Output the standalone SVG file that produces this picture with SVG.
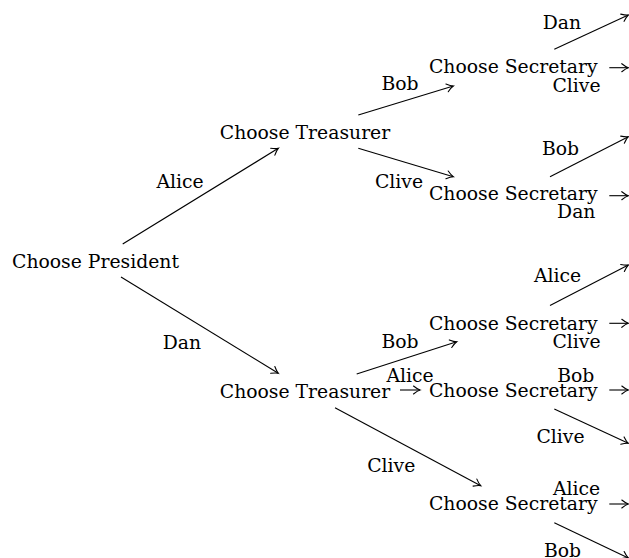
<svg xmlns="http://www.w3.org/2000/svg" width="629" height="558" viewBox="0 0 629 558">
<style>
.t text{font-size:18.8px;fill:#000;text-anchor:middle}
.e{stroke:#000;stroke-width:1.1;fill:none;marker-end:url(#arr)}
</style>
<defs>
<marker id="arr" markerUnits="userSpaceOnUse" markerWidth="14" markerHeight="14" viewBox="-10 -7 14 14" refX="0" refY="0" orient="auto" overflow="visible">
<path d="M-6.5,-4 Q-2.5,-0.8 0,0 Q-2.5,0.8 -6.5,4" stroke="#000" stroke-width="1.1" fill="none" stroke-linecap="round"/>
</marker>
</defs>
<rect width="629" height="558" fill="#fff"/>
<g id="connectors">
<line class="e" x1="122.7" y1="244" x2="278.3" y2="148.3"/>
<line class="e" x1="121" y1="277" x2="278.3" y2="373.3"/>
<line class="e" x1="358.3" y1="115" x2="453.3" y2="86"/>
<line class="e" x1="358.3" y1="148.3" x2="453.3" y2="176.7"/>
<line class="e" x1="554.3" y1="49.3" x2="628.3" y2="15"/>
<line class="e" x1="609.3" y1="67.7" x2="628.3" y2="67.7"/>
<line class="e" x1="550" y1="176.7" x2="628.3" y2="136.7"/>
<line class="e" x1="609.3" y1="195.7" x2="628.3" y2="195.7"/>
<line class="e" x1="550" y1="305.5" x2="628.3" y2="265"/>
<line class="e" x1="609.3" y1="323.3" x2="628.3" y2="323.3"/>
<line class="e" x1="356.7" y1="374" x2="456.7" y2="341.7"/>
<line class="e" x1="400" y1="390" x2="420" y2="390"/>
<line class="e" x1="609.3" y1="390" x2="628.3" y2="390"/>
<line class="e" x1="554.3" y1="409" x2="628.3" y2="443.3"/>
<line class="e" x1="335" y1="407.7" x2="480.7" y2="485.7"/>
<line class="e" x1="609.3" y1="504" x2="628.3" y2="504"/>
<line class="e" x1="554.3" y1="522.7" x2="628.3" y2="558"/>
</g>
<g class="t" font-family="'DejaVu Serif', serif">
<g id="edge-labels">
<text x="180" y="188">Alice</text>
<text x="182" y="349">Dan</text>
<text x="400" y="90">Bob</text>
<text x="399" y="188">Clive</text>
<text x="562" y="29">Dan</text>
<text x="576.5" y="92">Clive</text>
<text x="560.5" y="155">Bob</text>
<text x="576.3" y="218">Dan</text>
<text x="557.5" y="282.3">Alice</text>
<text x="576.5" y="348">Clive</text>
<text x="400" y="348">Bob</text>
<text x="410" y="381.7">Alice</text>
<text x="575.8" y="381.7">Bob</text>
<text x="560.5" y="443">Clive</text>
<text x="391.3" y="471.7">Clive</text>
<text x="576.5" y="495">Alice</text>
<text x="562.5" y="556.5">Bob</text>
</g>
<g id="president"><text x="95.5" y="268">Choose President</text></g>
<g id="treasurer-alice"><text x="305" y="139">Choose Treasurer</text></g>
<g id="treasurer-dan"><text x="305" y="398">Choose Treasurer</text></g>
<g id="secretary-ab"><text x="513.3" y="72.7">Choose Secretary</text></g>
<g id="secretary-ac"><text x="513.3" y="200">Choose Secretary</text></g>
<g id="secretary-db"><text x="513.3" y="330">Choose Secretary</text></g>
<g id="secretary-da"><text x="513.3" y="397">Choose Secretary</text></g>
<g id="secretary-dc"><text x="513.3" y="510">Choose Secretary</text></g>
</g>
</svg>
